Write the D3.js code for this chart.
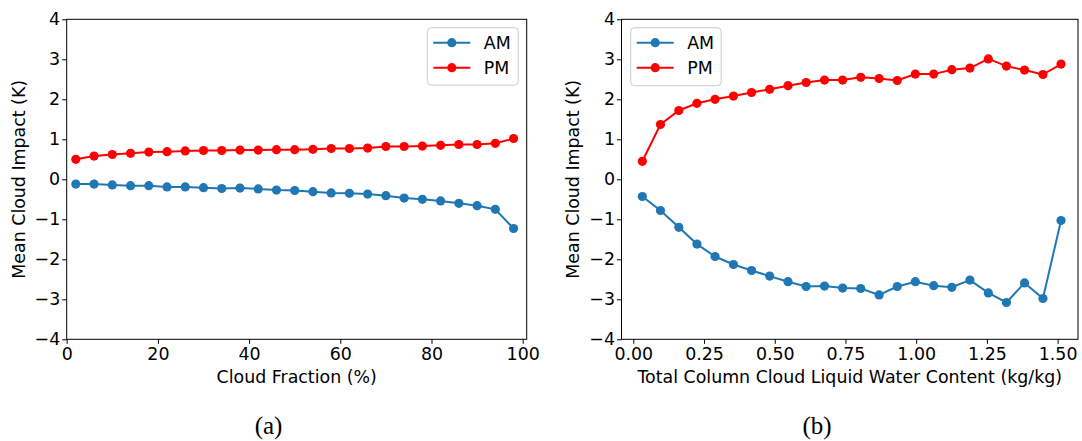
<!DOCTYPE html>
<html><head><meta charset="utf-8">
<script src="https://cdn.jsdelivr.net/npm/d3@7"></script>
<style>
html,body{margin:0;padding:0;background:#fff;}
svg{display:block;}
</style></head>
<body><svg id="c" width="1082" height="441"></svg>
<script>
// ---- data ----
const cfX = [2,6,10,14,18,22,26,30,34,38,42,46,50,54,58,62,66,70,74,78,82,86,90,94,98];
const cfAM = [-0.12,-0.12,-0.14,-0.16,-0.16,-0.19,-0.19,-0.21,-0.23,-0.22,-0.24,-0.27,-0.28,-0.31,-0.34,-0.35,-0.37,-0.41,-0.47,-0.50,-0.54,-0.60,-0.66,-0.75,-1.23];
const cfPM = [0.50,0.58,0.62,0.65,0.68,0.69,0.71,0.72,0.72,0.73,0.73,0.74,0.74,0.75,0.77,0.77,0.78,0.82,0.82,0.83,0.85,0.87,0.87,0.90,1.02];

const lwcX = [0.032,0.096,0.161,0.225,0.289,0.354,0.418,0.482,0.547,0.611,0.676,0.740,0.804,0.869,0.933,0.997,1.062,1.126,1.190,1.255,1.319,1.383,1.448,1.512];
const lwcAM = [-0.43,-0.78,-1.20,-1.62,-1.93,-2.13,-2.28,-2.42,-2.56,-2.68,-2.67,-2.72,-2.73,-2.89,-2.68,-2.56,-2.66,-2.70,-2.52,-2.84,-3.08,-2.59,-2.98,-1.03];
const lwcPM = [0.45,1.37,1.72,1.90,2.00,2.08,2.17,2.25,2.34,2.42,2.48,2.48,2.55,2.52,2.47,2.63,2.63,2.74,2.78,3.01,2.83,2.73,2.62,2.88];

const yTicks = [-4,-3,-2,-1,0,1,2,3,4];
const cfTicks = [0,20,40,60,80,100];
const lwcTicks = [0,0.25,0.5,0.75,1.0,1.25,1.5];
const seriesNames = ["AM","PM"];
const seriesColors = ["#1f77b4","#ff0000"];

const svg = d3.select("#c");
const plotTop = 19.3, plotBottom = 339.3;
const FS = 17.4;
const SANS = "'DejaVu Sans', sans-serif";

function panel(opts){
  const g = svg.append("g");
  const x = d3.scaleLinear().domain(opts.xdom).range(opts.xr);
  const y = d3.scaleLinear().domain([-4,4]).range([plotBottom, plotTop]);
  // series
  const series = [opts.am, opts.pm];
  series.forEach((vals, si) => {
    const pts = opts.xs.map((d,i)=>[d, vals[i]]);
    g.append("path").datum(pts)
      .attr("fill","none").attr("stroke",seriesColors[si]).attr("stroke-width",2)
      .attr("d", d3.line().x(d=>x(d[0])).y(d=>y(d[1])));
    g.selectAll(null).data(pts).enter().append("circle")
      .attr("cx",d=>x(d[0])).attr("cy",d=>y(d[1])).attr("r",4.6)
      .attr("fill",seriesColors[si]);
  });
  // axes
  const xa = d3.axisBottom(x).tickValues(opts.xticks).tickFormat(opts.fmt).tickSizeOuter(0).tickSize(4.5).tickPadding(4);
  const ya = d3.axisLeft(y).tickValues(yTicks).tickFormat(d3.format("d")).tickSizeOuter(0).tickSize(4.5).tickPadding(2);
  const gx = g.append("g").attr("transform",`translate(0,${plotBottom})`).call(xa);
  const gy = g.append("g").attr("transform",`translate(${opts.xr[0]},0)`).call(ya);
  [gx,gy].forEach(a=>{
    a.select(".domain").remove();
    a.selectAll("text").style("font-size",FS+"px").style("font-family",SANS).attr("fill","#000");
    a.selectAll("line").attr("stroke","#000").attr("stroke-width",1);
  });
  // frame
  g.append("rect").attr("x",opts.xr[0]).attr("y",plotTop)
    .attr("width",opts.xr[1]-opts.xr[0]).attr("height",plotBottom-plotTop)
    .attr("fill","none").attr("stroke","#000").attr("stroke-width",1);
  // labels
  g.append("text").attr("x",(opts.xr[0]+opts.xr[1])/2).attr("y",383)
    .attr("text-anchor","middle").style("font-size",FS+"px").style("font-family",SANS).text(opts.xlabel);
  g.append("text").attr("transform",`translate(${opts.ylx},${(plotTop+plotBottom)/2}) rotate(-90)`)
    .attr("text-anchor","middle").attr("dy","0.35em").style("font-size",FS+"px").style("font-family",SANS)
    .text("Mean Cloud Impact (K)");
  g.append("text").attr("x",opts.capx).attr("y",434).attr("text-anchor","middle")
    .style("font-family","'Liberation Serif', serif").style("font-size","25px").text(opts.cap);
  // legend
  const L = opts.leg;
  const lg = g.append("g");
  lg.append("rect").attr("x",L.x).attr("y",L.y).attr("width",L.w).attr("height",L.h)
    .attr("rx",4).attr("fill","#fff").attr("fill-opacity",0.8).attr("stroke","#ccc").attr("stroke-width",1);
  seriesNames.forEach((n,i)=>{
    const yy = L.y + 15 + i*25;
    lg.append("line").attr("x1",L.x+6).attr("x2",L.x+43).attr("y1",yy).attr("y2",yy)
      .attr("stroke",seriesColors[i]).attr("stroke-width",2);
    lg.append("circle").attr("cx",L.x+24.5).attr("cy",yy).attr("r",4.6).attr("fill",seriesColors[i]);
    lg.append("text").attr("x",L.x+56.5).attr("y",yy).attr("dy","0.35em")
      .style("font-size",FS+"px").style("font-family",SANS).text(n);
  });
}

panel({xs:cfX, am:cfAM, pm:cfPM, xdom:[0,100.88], xr:[66.7,526.7], xticks:cfTicks, fmt:d3.format("d"),
  xlabel:"Cloud Fraction (%)", ylx:18.5, cap:"(a)", capx:268.5, leg:{x:427.3,y:27.7,w:91,h:57.5}});
panel({xs:lwcX, am:lwcAM, pm:lwcPM, xdom:[-0.0417,1.572], xr:[621.5,1078], xticks:lwcTicks, fmt:d3.format(".2f"),
  xlabel:"Total Column Cloud Liquid Water Content (kg/kg)", ylx:573, cap:"(b)", capx:817, leg:{x:630.7,y:27.7,w:90.5,h:58}});
</script></body></html>
